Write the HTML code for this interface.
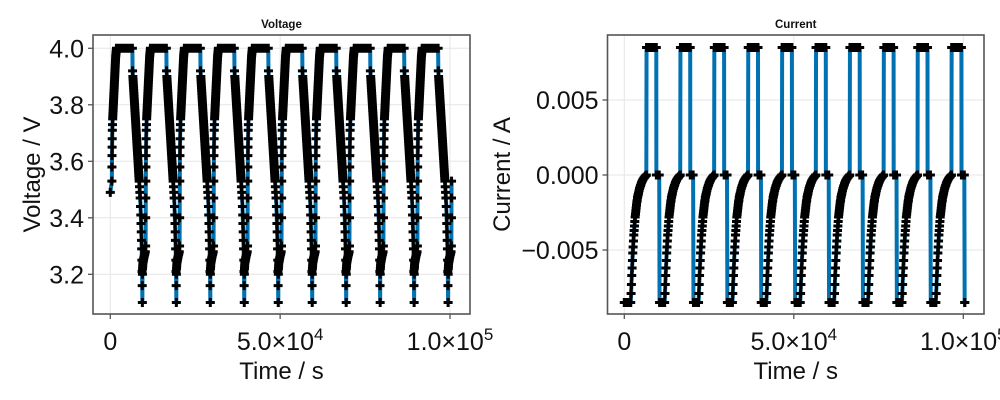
<!DOCTYPE html>
<html><head><meta charset="utf-8"><style>
html,body{margin:0;padding:0;background:#fff}
svg{display:block}
text{font-family:"Liberation Sans",sans-serif;fill:#111}
</style></head><body>
<svg id="fig" width="1000" height="400" viewBox="0 0 1000 400"></svg>
<script>
// ---- data: one cycle template (relative time in s) ----
const chargeT = [0,20,40,60,80,100,130,160,200,250,300,340,380,420,460,500,540,580,620,660,700,740,780,820,860,900,940,980,1020,1060,1100,1140,1180,1220,1260,1300,1340,1380,1420,1460,1500];
const chargeV = [3.30,3.40,3.47,3.53,3.58,3.62,3.65,3.68,3.71,3.73,3.75,3.76,3.77,3.78,3.79,3.80,3.81,3.82,3.83,3.84,3.85,3.86,3.87,3.88,3.89,3.90,3.91,3.92,3.93,3.94,3.95,3.96,3.97,3.975,3.98,3.985,3.99,3.995,4.00,4.00,4.00];
const cvT = [1600,1700,1800,1900,2000,2100,2200,2300,2400,2500,2600,2700,2800,2900,3000,3100,3200,3300,3400,3500,3600,3700,3800,3950,4100,4250,4400,4550,4700,4850,5000,5200,5400,5600,5800,6000,6100];
const cvI = [-0.0079,-0.0073,-0.0067,-0.0062,-0.0057,-0.0052,-0.0048,-0.0044,-0.0040,-0.0037,-0.0034,-0.0031,-0.0028,-0.0026,-0.0024,-0.0022,-0.0020,-0.0018,-0.0017,-0.0015,-0.0014,-0.0013,-0.0012,-0.00105,-0.0009,-0.0008,-0.0007,-0.0006,-0.0005,-0.00042,-0.00035,-0.00027,-0.0002,-0.00014,-0.00008,-0.00003,0];
const dischargeT = [6160,6250,6300,6350,6400,6450,6500,6550,6600,6650,6700,6750,6800,6850,6900,6950,7000,7050,7100,7150,7200,7250,7300,7350,7400,7450,7500,7550,7600,7650,7700,7750,7800,7850,7900,7950,8000,8050,8100,8200,8300,8400,8500,8580,8650,8720,8780,8840,8900,8950,9000,9040];
const dischargeV = [3.92,3.90,3.89,3.88,3.87,3.86,3.85,3.84,3.83,3.82,3.81,3.80,3.79,3.78,3.77,3.76,3.75,3.74,3.73,3.72,3.71,3.70,3.69,3.68,3.67,3.66,3.65,3.64,3.63,3.62,3.61,3.60,3.59,3.58,3.57,3.56,3.55,3.54,3.53,3.51,3.49,3.47,3.44,3.41,3.38,3.35,3.32,3.29,3.25,3.21,3.16,3.10];
const restT = [9060,9100,9150,9200,9280,9350,9430,9500,9600,9700,9800,9900];
const restV = [3.20,3.22,3.23,3.24,3.245,3.25,3.255,3.26,3.265,3.27,3.275,3.28];
const cycleStarts = [400,10400,20400,30400,40400,50400,60400,70400,80400,90400,100400];
const initialV = 3.49;
const ccCurrent = -0.0085;
const dischargeCurrent = 0.0085;
const endTime = 100460;
const xTicks = [0,50000,100000];
const xTickBase = ["0","5.0×10","1.0×10"];
const xTickExp = ["","4","5"];
const vTicks = [3.2,3.4,3.6,3.8,4.0];
const vTickLabels = ["3.2","3.4","3.6","3.8","4.0"];
const iTicks = [-0.005,0,0.005];
const iTickLabels = ["−0.005","0.000","0.005"];

// ---- build series ----
const T=[],V=[],I=[];
cycleStarts.forEach((s,k)=>{
  if(k===0){T.push(0);V.push(initialV);I.push(ccCurrent);}
  chargeT.forEach((t,j)=>{ if(k===0&&j<3) return; if(s+t>endTime) return; T.push(s+t);V.push(chargeV[j]);I.push(ccCurrent);});
  if(k===cycleStarts.length-1) return;
  cvT.forEach((t,j)=>{T.push(s+t);V.push(4.0);I.push(cvI[j]);});
  dischargeT.forEach((t,j)=>{T.push(s+t);V.push(dischargeV[j]);I.push(dischargeCurrent);});
  restT.forEach((t,j)=>{T.push(s+t);V.push(restV[j]);I.push(0);});
});

const NS="http://www.w3.org/2000/svg";
const svg=document.getElementById('fig');
function el(tag,attrs,parent){const e=document.createElementNS(NS,tag);for(const k in attrs)e.setAttribute(k,attrs[k]);(parent||svg).appendChild(e);return e;}

function panel(cfg){
  const g=el('g',{});
  
  
  const {x0,x1,y0,y1}=cfg.box;
  const X=t=>cfg.xa+t*cfg.xs, Y=v=>cfg.ya-(v-cfg.yv)*cfg.ys;
  const clipId='clip-'+cfg.name;
  const cp=el('clipPath',{id:clipId},g); el('rect',{x:x0,y:y0,width:x1-x0,height:y1-y0},cp);
  xTicks.forEach(t=>{const l=el('line',{x1:X(t),x2:X(t),y1:y0,y2:y1,stroke:'#e6e6e6','stroke-width':1},g);
    });
  cfg.yTicks.forEach(v=>{const l=el('line',{x1:x0,x2:x1,y1:Y(v),y2:Y(v),stroke:'#e6e6e6','stroke-width':1},g);
    });
  const d=T.map((t,i)=>(i?'L':'M')+X(t).toFixed(2)+','+Y(cfg.vals[i]).toFixed(2)).join('');
  const line=el('path',{d:d,fill:'none',stroke:'#0072b2','stroke-width':4,'stroke-linejoin':'round','clip-path':'url(#'+clipId+')'},g);
  
  
  const md=T.map((t,i)=>{const x=X(t),y=Y(cfg.vals[i]);return 'M'+(x-4.5).toFixed(2)+','+y.toFixed(2)+'h9M'+x.toFixed(2)+','+(y-4.5).toFixed(2)+'v9';}).join('');
  const mk=el('path',{d:md,fill:'none',stroke:'#000','stroke-width':3},g);
  
  
  const fr=el('rect',{x:x0,y:y0,width:x1-x0,height:y1-y0,fill:'none',stroke:'#555','stroke-width':1.6},g);
  
  
  xTicks.forEach((t,j)=>{el('line',{x1:X(t),x2:X(t),y1:y1,y2:y1+5,stroke:'#555','stroke-width':1.3},g);
    const tx=el('text',{x:X(t),y:y1+36,'text-anchor':'middle','font-size':25},g);
    tx.textContent=xTickBase[j];
    if(xTickExp[j]){const sp=el('tspan',{'font-size':17,dy:-10},tx);sp.textContent=xTickExp[j];}
    });
  cfg.yTicks.forEach((v,j)=>{el('line',{x1:x0-5,x2:x0,y1:Y(v),y2:Y(v),stroke:'#555','stroke-width':1.3},g);
    const tx=el('text',{x:x0-9,y:Y(v)+9,'text-anchor':'end','font-size':25},g);tx.textContent=cfg.yTickLabels[j];
    });
  const tt=el('text',{x:(x0+x1)/2,y:28,'text-anchor':'middle','font-size':11.5,'font-weight':'bold'},g);tt.textContent=cfg.title;
  
  const xl=el('text',{x:(x0+x1)/2,y:379,'text-anchor':'middle','font-size':24},g);xl.textContent='Time / s';
  
  const yl=el('text',{x:0,y:0,'text-anchor':'middle','font-size':24,transform:'translate('+cfg.ylx+','+((y0+y1)/2)+') rotate(-90)'},g);yl.textContent=cfg.ylabel;
  
}
panel({name:'voltage',title:'Voltage',ylabel:'Voltage / V',vals:V,box:{x0:93,x1:470,y0:35,y1:314},
  xa:110.3,xs:0.003397,ya:274.3,yv:3.2,ys:282.5,yTicks:vTicks,yTickLabels:vTickLabels,ylx:40});
panel({name:'current',title:'Current',ylabel:'Current / A',vals:I,box:{x0:607.5,x1:984,y0:35,y1:314},
  xa:624.3,xs:0.00339,ya:175,yv:0,ys:15000,yTicks:iTicks,yTickLabels:iTickLabels,ylx:510});
</script>
</body></html>
